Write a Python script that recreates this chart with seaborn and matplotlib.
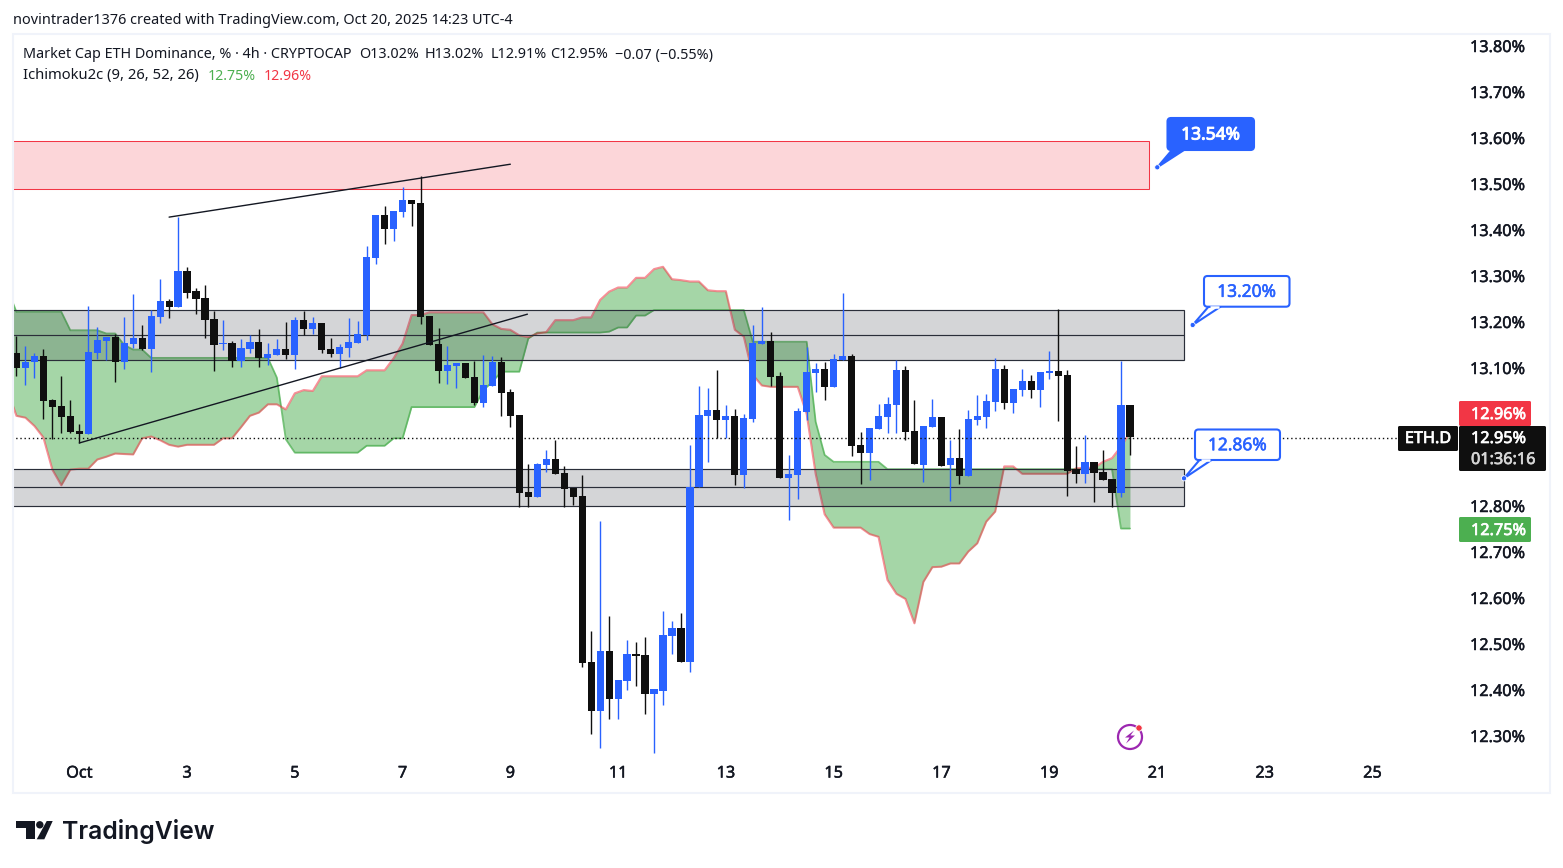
# ETH dominance 4h chart, TradingView look
import numpy as np
import pandas as pd
import matplotlib
matplotlib.use('Agg')
import matplotlib.pyplot as plt
import matplotlib.patheffects as pe
from matplotlib.patches import Rectangle, FancyBboxPatch, Polygon, Circle
import seaborn as sns

# ── DATA ─────────────────────────────────────────────────
first_candle = -7   # candles counted from the Oct 1 tick, 6 per day

opens = [13.133, 13.100, 13.112, 13.126, 13.030, 13.017, 12.996, 12.963, 12.957, 13.133,
         13.159, 13.167, 13.114, 13.152, 13.165, 13.141, 13.211, 13.246, 13.233, 13.311,
         13.267, 13.252, 13.207, 13.152, 13.154, 13.116, 13.141, 13.157, 13.122, 13.128,
         13.141, 13.128, 13.204, 13.185, 13.198, 13.141, 13.130, 13.143, 13.154, 13.172,
         13.339, 13.433, 13.402, 13.439, 13.465, 13.459, 13.213, 13.152, 13.093, 13.104,
         13.111, 13.080, 13.024, 13.061, 13.113, 13.048, 12.998, 12.830, 12.820, 12.889,
         12.902, 12.872, 12.839, 12.822, 12.461, 12.354, 12.485, 12.380, 12.420, 12.478,
         12.476, 12.391, 12.398, 12.517, 12.535, 12.461, 12.841, 12.996, 13.009, 12.987,
         12.996, 12.867, 12.989, 13.152, 13.159, 13.083, 12.861, 12.867, 13.004, 13.089,
         13.098, 13.059, 13.117, 13.126, 12.933, 12.915, 12.967, 12.994, 13.020, 13.096,
         12.963, 12.889, 12.972, 12.994, 12.889, 12.904, 12.865, 12.987, 12.994, 13.026,
         13.098, 13.024, 13.052, 13.072, 13.052, 13.089, 13.093, 13.085, 12.880, 12.869,
         12.896, 12.874, 12.859, 12.828, 13.020]
highs = [13.170, 13.148, 13.133, 13.141, 13.032, 13.083, 13.030, 12.978, 13.235, 13.189,
         13.167, 13.174, 13.211, 13.261, 13.193, 13.226, 13.293, 13.250, 13.429, 13.320,
         13.274, 13.280, 13.224, 13.204, 13.159, 13.163, 13.172, 13.185, 13.154, 13.163,
         13.200, 13.211, 13.224, 13.211, 13.198, 13.165, 13.152, 13.209, 13.202, 13.365,
         13.433, 13.452, 13.441, 13.493, 13.465, 13.517, 13.213, 13.187, 13.148, 13.111,
         13.111, 13.115, 13.128, 13.126, 13.124, 13.054, 12.998, 12.891, 12.893, 12.922,
         12.943, 12.887, 12.839, 12.867, 12.528, 12.767, 12.561, 12.422, 12.509, 12.504,
         12.515, 12.402, 12.572, 12.550, 12.567, 12.933, 13.061, 13.057, 13.096, 13.020,
         13.011, 13.000, 13.193, 13.233, 13.178, 13.091, 12.911, 13.013, 13.146, 13.111,
         13.113, 13.130, 13.263, 13.130, 12.961, 12.970, 13.022, 13.037, 13.117, 13.104,
         13.030, 12.974, 13.033, 12.994, 12.943, 12.967, 13.009, 13.041, 13.044, 13.122,
         13.107, 13.054, 13.098, 13.085, 13.091, 13.137, 13.228, 13.096, 12.930, 12.954,
         12.896, 12.922, 12.859, 13.115, 13.020]
lows = [13.083, 13.062, 13.079, 12.990, 12.945, 12.959, 12.959, 12.936, 12.957, 13.120,
        13.117, 13.070, 13.098, 13.143, 13.139, 13.092, 13.198, 13.209, 13.233, 13.252,
        13.217, 13.165, 13.093, 13.139, 13.102, 13.102, 13.133, 13.102, 13.106, 13.128,
        13.120, 13.098, 13.172, 13.174, 13.133, 13.124, 13.100, 13.124, 13.154, 13.161,
        13.326, 13.370, 13.376, 13.428, 13.409, 13.196, 13.150, 13.067, 13.065, 13.057,
        13.078, 13.020, 13.015, 13.061, 12.996, 12.972, 12.798, 12.798, 12.820, 12.874,
        12.870, 12.798, 12.802, 12.450, 12.304, 12.274, 12.337, 12.337, 12.400, 12.409,
        12.348, 12.263, 12.367, 12.478, 12.461, 12.439, 12.841, 12.896, 12.948, 12.948,
        12.846, 12.839, 12.983, 13.152, 13.061, 12.861, 12.770, 12.815, 12.987, 13.048,
        13.030, 13.059, 13.117, 12.909, 12.848, 12.857, 12.967, 12.959, 12.959, 12.944,
        12.891, 12.852, 12.972, 12.887, 12.811, 12.848, 12.865, 12.976, 12.970, 13.007,
        13.011, 13.002, 13.039, 13.035, 13.015, 13.076, 12.985, 12.822, 12.850, 12.850,
        12.809, 12.857, 12.798, 12.820, 12.910]
closes = [13.101, 13.113, 13.126, 13.029, 13.016, 12.994, 12.961, 12.957, 13.135, 13.161,
          13.167, 13.114, 13.154, 13.165, 13.141, 13.213, 13.246, 13.233, 13.311, 13.264,
          13.250, 13.204, 13.150, 13.154, 13.116, 13.143, 13.157, 13.122, 13.130, 13.141,
          13.128, 13.204, 13.185, 13.198, 13.139, 13.130, 13.146, 13.157, 13.174, 13.341,
          13.433, 13.402, 13.441, 13.465, 13.457, 13.211, 13.150, 13.093, 13.106, 13.111,
          13.078, 13.024, 13.063, 13.113, 13.046, 12.996, 12.828, 12.820, 12.891, 12.902,
          12.870, 12.837, 12.820, 12.459, 12.354, 12.485, 12.380, 12.422, 12.478, 12.474,
          12.391, 12.402, 12.520, 12.535, 12.461, 12.841, 12.998, 13.009, 12.987, 12.996,
          12.867, 12.991, 13.154, 13.159, 13.080, 12.861, 12.870, 13.007, 13.091, 13.098,
          13.059, 13.120, 13.126, 12.930, 12.915, 12.970, 12.996, 13.022, 13.096, 12.961,
          12.891, 12.974, 12.994, 12.887, 12.904, 12.865, 12.989, 12.996, 13.028, 13.098,
          13.024, 13.054, 13.072, 13.052, 13.091, 13.093, 13.083, 12.876, 12.869, 12.896,
          12.872, 12.857, 12.828, 13.020, 12.950]

first_cloud = -8
cloud_green = [13.272, 13.222, 13.222, 13.222, 13.222, 13.222, 13.222, 13.182, 13.182, 13.182,
               13.182, 13.175, 13.175, 13.150, 13.140, 13.140, 13.122, 13.122, 13.122, 13.122,
               13.122, 13.122, 13.122, 13.122, 13.122, 13.122, 13.122, 13.122, 13.122, 13.122,
               13.079, 12.945, 12.916, 12.916, 12.916, 12.916, 12.916, 12.916, 12.916, 12.916,
               12.931, 12.931, 12.931, 12.947, 12.947, 13.015, 13.015, 13.015, 13.015, 13.015,
               13.015, 13.015, 13.015, 13.052, 13.070, 13.092, 13.092, 13.092, 13.164, 13.177,
               13.177, 13.177, 13.177, 13.177, 13.177, 13.177, 13.177, 13.179, 13.188, 13.188,
               13.214, 13.214, 13.226, 13.226, 13.226, 13.226, 13.226, 13.226, 13.226, 13.226,
               13.226, 13.226, 13.226, 13.157, 13.157, 13.157, 13.157, 13.157, 13.157, 13.157,
               12.983, 12.911, 12.896, 12.896, 12.896, 12.896, 12.896, 12.896, 12.880, 12.880,
               12.880, 12.880, 12.880, 12.880, 12.880, 12.880, 12.880, 12.880, 12.880, 12.880,
               12.880, 12.880, 12.880, 12.880, 12.880, 12.880, 12.880, 12.880, 12.880, 12.880,
               12.880, 12.880, 12.880, 12.880, 12.751, 12.751]
cloud_red = [13.052, 12.996, 12.992, 12.974, 12.949, 12.879, 12.845, 12.879, 12.881, 12.881,
             12.901, 12.907, 12.914, 12.913, 12.912, 12.947, 12.951, 12.943, 12.933, 12.929,
             12.933, 12.933, 12.933, 12.933, 12.947, 12.947, 12.971, 12.996, 13.003, 13.021,
             13.021, 13.010, 13.045, 13.052, 13.050, 13.082, 13.082, 13.082, 13.082, 13.082,
             13.095, 13.095, 13.095, 13.121, 13.153, 13.215, 13.215, 13.221, 13.221, 13.221,
             13.221, 13.221, 13.221, 13.221, 13.195, 13.185, 13.183, 13.171, 13.167, 13.175,
             13.178, 13.204, 13.204, 13.204, 13.210, 13.210, 13.248, 13.266, 13.275, 13.275,
             13.296, 13.296, 13.315, 13.320, 13.293, 13.291, 13.288, 13.288, 13.269, 13.267,
             13.267, 13.183, 13.168, 13.085, 13.062, 13.059, 13.059, 13.059, 13.059, 13.000,
             12.870, 12.782, 12.753, 12.753, 12.753, 12.753, 12.739, 12.733, 12.639, 12.609,
             12.598, 12.545, 12.635, 12.667, 12.668, 12.675, 12.675, 12.701, 12.719, 12.766,
             12.788, 12.886, 12.886, 12.870, 12.870, 12.870, 12.870, 12.870, 12.870, 12.882,
             12.883, 12.883, 12.896, 12.904, 12.929, 12.960]

last_price = 12.948

# drawings on the chart
pink_zone = (13.593, 13.489, 119.1)            # top, bottom, right end
grey_zones = [(13.2254, 13.171, 13.117, 123.0),   # top, middle, bottom, right end
              (12.880, 12.841, 12.799, 123.0)]
trend_x = [[10.0, 48.0], [0.0, 49.9]]
trend_y = [[13.428, 13.543], [12.937, 13.217]]

y_ticks = [13.8, 13.7, 13.6, 13.5, 13.4, 13.3, 13.2, 13.1, 12.8, 12.7, 12.6, 12.5, 12.4, 12.3]
x_ticks = [0, 12, 24, 36, 48, 60, 72, 84, 96, 108, 120, 132, 144]
x_labels = ['Oct', '3', '5', '7', '9', '11', '13', '15', '17', '19', '21', '23', '25']

# ── STYLE ────────────────────────────────────────────────
BLUE = '#2962ff'; BLACK = '#0f0f0f'; INK = '#131722'; RED = '#f23645'; GREEN = '#4caf50'
sns.set_theme(style='white')
plt.rcParams['font.family'] = ['Noto Sans', 'DejaVu Sans']

def heavier(color, w=0.35):
    # a touch of weight, the scale labels are heavier than Noto regular
    return [pe.withStroke(linewidth=w, foreground=color)]

W, H = 1563, 868
fig = plt.figure(figsize=(W / 100, H / 100), dpi=100, facecolor='white')
ax = fig.add_axes([13 / W, 1 - 760 / H, (1460 - 13) / W, (760 - 35) / H])
ax.set_facecolor('none')

# ── CLOUD ────────────────────────────────────────────────
cloud_x = np.arange(first_cloud, first_cloud + len(cloud_green))
ax.fill_between(cloud_x, cloud_green, cloud_red, color=GREEN, alpha=0.5, lw=0, zorder=1)
sns.lineplot(x=cloud_x, y=cloud_green, color=GREEN, lw=1.3, alpha=0.75, ax=ax,
             legend=False, errorbar=None, zorder=2)
sns.lineplot(x=cloud_x, y=cloud_red, color=RED, lw=1.5, alpha=0.55, ax=ax,
             legend=False, errorbar=None, zorder=2)

# ── ZONES ────────────────────────────────────────────────
ax.add_patch(Rectangle((-20, pink_zone[1]), pink_zone[2] + 20, pink_zone[0] - pink_zone[1],
                       facecolor=RED, alpha=0.2, lw=0, zorder=3))
ax.add_patch(Rectangle((-20, pink_zone[1]), pink_zone[2] + 20, pink_zone[0] - pink_zone[1],
                       facecolor='none', edgecolor=RED, lw=0.75, zorder=3))
for top, mid, bot, right in grey_zones:
    ax.add_patch(Rectangle((-20, bot), right + 20, top - bot, facecolor='#2a2e39', alpha=0.2,
                           lw=0, zorder=3))
    ax.add_patch(Rectangle((-20, bot), right + 20, top - bot, facecolor='none',
                           edgecolor='#2a2e39', lw=0.85, zorder=3))
    ax.plot([-20, right], [mid, mid], color='#2a2e39', lw=0.85, zorder=3)

# ── CANDLES ──────────────────────────────────────────────
candles = pd.DataFrame({'open': opens, 'high': highs, 'low': lows, 'close': closes})
candles['x'] = first_candle + candles.index
candle_colors = [BLUE if c >= o else BLACK for o, c in zip(candles['open'], candles['close'])]
ax.vlines(candles['x'], candles['low'], candles['high'], colors=candle_colors, lw=1.0, zorder=4)
ax.bar(candles['x'], (candles['close'] - candles['open']).abs(),
       bottom=candles[['open', 'close']].min(axis=1), width=0.8, color=candle_colors, lw=0, zorder=5)

for tx, ty in zip(trend_x, trend_y):
    ax.plot(tx, ty, color=INK, lw=1, zorder=6)
ax.plot([-20, 147], [last_price, last_price], color=BLACK, lw=1, ls=(0, (1, 2)), zorder=6)

# ── AXES ─────────────────────────────────────────────────
ax.set_xlim((13 - 79.3) / 8.98, (1460 - 79.3) / 8.98)
ax.set_ylim(13.9 - 760 / 460, 13.9 - 35 / 460)
sns.despine(ax=ax, left=True, bottom=True, right=True, top=True)
ax.yaxis.tick_right()
ax.set_yticks(y_ticks)
ax.set_yticklabels([f'{v:.2f}%' for v in y_ticks])
ax.set_xticks(x_ticks)
ax.set_xticklabels(x_labels)
ax.tick_params(axis='both', length=0, labelsize=11.7, labelcolor=INK)
ax.tick_params(axis='y', pad=7.2)
ax.tick_params(axis='x', pad=4)
ax.grid(False)
for lab in ax.get_yticklabels() + ax.get_xticklabels():
    lab.set_path_effects(heavier(INK))

# ── OVERLAY IN PIXELS (labels, frame, logo) ──────────────
ov = fig.add_axes([0, 0, 1, 1], zorder=10)
ov.set_xlim(0, W); ov.set_ylim(H, 0); ov.axis('off')
ov.patch.set_alpha(0)

ov.add_patch(Rectangle((13, 34), 1537, 759, facecolor='none', edgecolor='#f0f3fa', lw=1.5))

ov.text(13, 21, 'novintrader1376 created with TradingView.com, Oct 20, 2025 14:23 UTC-4',
        fontsize=10.4, color=INK, va='center')
ov.text(23, 55, 'Market Cap ETH Dominance, % · 4h · CRYPTOCAP', fontsize=10.35, color=INK, va='center')
for x, t in zip([359, 425, 491, 550, 615],
                ['O13.02%', 'H13.02%', 'L12.91%', 'C12.95%', '−0.07 (−0.55%)']):
    ov.text(x, 55, t, fontsize=10.35, color=INK, va='center')
ov.text(23, 76, 'Ichimoku2c (9, 26, 52, 26)', fontsize=10.65, color=INK, va='center')
ov.text(208, 76, '12.75%', fontsize=10.2, color=GREEN, va='center')
ov.text(264, 76, '12.96%', fontsize=10.2, color=RED, va='center')

def tag(x0, y0, x1, y1, color, rounding=1.5):
    ov.add_patch(FancyBboxPatch((x0, y0), x1 - x0, y1 - y0, facecolor=color, lw=0,
                                boxstyle=f'round,pad=0,rounding_size={rounding}'))

def tag_text(x, y, s, color='white', ha='left'):
    ov.text(x, y, s, color=color, fontsize=11.7, va='center', ha=ha, path_effects=heavier(color, 0.5))

tag(1459, 401, 1531, 426, RED)
tag(1398, 426, 1458, 451, BLACK)
tag(1459, 426, 1546, 471, BLACK)
tag(1459, 517, 1531, 542, GREEN)
tag_text(1471, 415, '12.96%')
tag_text(1428, 439, 'ETH.D', ha='center')
tag_text(1471, 439, '12.95%')
tag_text(1471, 460, '01:36:16', color='#d6d6d6')
tag_text(1471, 531, '12.75%')

def callout(x0, y0, x1, y1, dot, base, label, filled):
    face = BLUE if filled else 'white'
    ov.add_patch(Polygon([(base, y1), (base + 12, y1), dot], closed=True, facecolor=face,
                         edgecolor=BLUE, lw=1.5, joinstyle='round'))
    ov.add_patch(FancyBboxPatch((x0, y0), x1 - x0, y1 - y0, facecolor=face, edgecolor=BLUE, lw=1.5,
                                boxstyle='round,pad=0,rounding_size=3.5'))
    if not filled:
        ov.plot([base + 1.5, base + 10.5], [y1, y1], color='white', lw=1.8, solid_capstyle='butt')
    ov.add_patch(Circle(dot, 2.6, facecolor=BLUE, edgecolor='white', lw=0.6))
    col = 'white' if filled else BLUE
    ov.text((x0 + x1) / 2, (y0 + y1) / 2 + 0.5, label, ha='center', va='center', fontsize=12.5,
            color=col, path_effects=heavier(col, 0.7 if filled else 0.4))

callout(1167.5, 118, 1254, 150, (1157.3, 167.3), 1172, '13.54%', True)
callout(1204, 276, 1289.5, 306.7, (1192.7, 325), 1208.5, '13.20%', False)
callout(1195, 429.5, 1280, 460, (1184, 478.3), 1199.5, '12.86%', False)

# lightning badge
ov.add_patch(Circle((1130, 737), 12, facecolor='none', edgecolor='#9c27b0', lw=1.6))
ov.add_patch(Polygon([(1134, 730.5), (1125, 737.5), (1129.5, 737.5), (1126, 743.5),
                      (1135, 735.5), (1130.5, 735.5)], closed=True, facecolor='#9c27b0', lw=0))
ov.add_patch(Circle((1139, 728), 3.2, facecolor=RED, edgecolor='white', lw=0.6))

# TradingView logo
ov.add_patch(Polygon([(15.7, 821), (35, 821), (35, 839.3), (26, 839.3), (26, 828.3), (15.7, 828.3)],
                     closed=True, facecolor=INK, lw=0))
ov.add_patch(Circle((39.8, 824.8), 3.7, facecolor=INK, lw=0))
ov.add_patch(Polygon([(46.7, 821), (52.7, 821), (44.3, 839.3), (36.7, 839.3)],
                     closed=True, facecolor=INK, lw=0))
ov.text(62, 839, 'TradingView', fontsize=17.8, color=INK, va='baseline', family=['Inter', 'DejaVu Sans'],
        fontweight='semibold')

plt.savefig('out.png', dpi=100, facecolor='white')
plt.close()
